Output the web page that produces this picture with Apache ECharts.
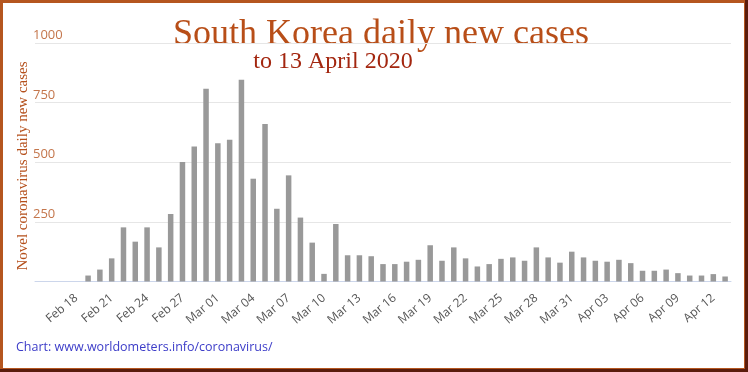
<!DOCTYPE html>
<html>
<head>
<meta charset="utf-8">
<script src="https://cdn.jsdelivr.net/npm/echarts@6/dist/echarts.min.js"></script>
<style>
  html, body { margin: 0; padding: 0; background: #ffffff; }
  #chart { width: 748px; height: 372px; }
</style>
</head>
<body>
<div id="chart"></div>
<script>
const titleText = 'South Korea daily new cases';
const subtitleText = 'to 13 April 2020';
const yAxisTitle = 'Novel coronavirus daily new cases';
const sourceText = 'Chart: www.worldometers.info/coronavirus/';

const categories = [
  'Feb 15','Feb 16','Feb 17','Feb 18','Feb 19','Feb 20','Feb 21','Feb 22','Feb 23','Feb 24',
  'Feb 25','Feb 26','Feb 27','Feb 28','Feb 29','Mar 01','Mar 02','Mar 03','Mar 04','Mar 05',
  'Mar 06','Mar 07','Mar 08','Mar 09','Mar 10','Mar 11','Mar 12','Mar 13','Mar 14','Mar 15',
  'Mar 16','Mar 17','Mar 18','Mar 19','Mar 20','Mar 21','Mar 22','Mar 23','Mar 24','Mar 25',
  'Mar 26','Mar 27','Mar 28','Mar 29','Mar 30','Mar 31','Apr 01','Apr 02','Apr 03','Apr 04',
  'Apr 05','Apr 06','Apr 07','Apr 08','Apr 09','Apr 10','Apr 11','Apr 12','Apr 13'
];

const dailyNewCases = [
  0, 0, 0, 0, 25, 50, 97, 227, 167, 227,
  143, 283, 501, 566, 808, 580, 594, 846, 431, 660,
  305, 445, 268, 163, 32, 241, 110, 110, 106, 73,
  73, 83, 91, 152, 87, 143, 97, 63, 73, 95,
  101, 87, 143, 101, 79, 125, 101, 87, 83, 91,
  77, 45, 45, 50, 35, 25, 25, 31, 21
];

const yTicks = [0, 250, 500, 750, 1000];
const xLabelEvery = 3;
const xLabelFirst = 3;

const chart = echarts.init(document.getElementById('chart'), null, { renderer: 'canvas' });

chart.setOption({
  animation: false,
  backgroundColor: '#ffffff',
  grid: { left: 35, right: 17, top: 43, bottom: 90.5, containLabel: false },
  xAxis: {
    type: 'category',
    data: categories,
    boundaryGap: true,
    axisLine: { show: true, lineStyle: { color: '#ccd6eb', width: 1 } },
    axisTick: { show: false },
    axisLabel: {
      interval: (idx) => idx >= xLabelFirst && (idx - xLabelFirst) % xLabelEvery === 0,
      rotate: 40,
      margin: 15,
      color: '#555555',
      fontFamily: 'Open Sans',
      fontSize: 12
    },
    splitLine: { show: false }
  },
  yAxis: {
    type: 'value',
    min: yTicks[0],
    max: yTicks[yTicks.length - 1],
    interval: yTicks[1] - yTicks[0],
    axisLine: { show: false },
    axisTick: { show: false },
    splitLine: { show: true, lineStyle: { color: '#e6e6e6', width: 1 } },
    axisLabel: {
      showMinLabel: false,
      formatter: (v) => String(v),
      align: 'left',
      verticalAlign: 'bottom',
      margin: 2,
      padding: [0, 0, 1, 0],
      color: '#c4764c',
      fontFamily: 'Open Sans',
      fontSize: 13
    }
  },
  series: [{
    type: 'bar',
    data: dailyNewCases,
    barWidth: 5.5,
    itemStyle: { color: '#999999' },
    emphasis: { disabled: true }
  }],
  graphic: [
    {
      type: 'text',
      x: 381, y: 17,
      style: {
        text: titleText,
        font: '36px "Liberation Serif"',
        fill: '#b84e18',
        align: 'center',
        verticalAlign: 'top'
      }
    },
    {
      type: 'text',
      x: 333, y: 50,
      style: {
        text: subtitleText,
        font: '24px "Liberation Serif"',
        fill: '#a3260f',
        align: 'center',
        verticalAlign: 'top'
      }
    },
    {
      type: 'text',
      x: 23, y: 166,
      rotation: Math.PI / 2,
      style: {
        text: yAxisTitle,
        font: '15px "Liberation Serif"',
        fill: '#b5501c',
        align: 'center',
        verticalAlign: 'middle'
      }
    },
    {
      type: 'text',
      x: 16, y: 347,
      style: {
        text: sourceText,
        font: '12.5px "Open Sans"',
        fill: '#3c3cc8',
        align: 'left',
        verticalAlign: 'middle'
      }
    },
    {
      type: 'rect',
      shape: { x: 1.5, y: 1.5, width: 744, height: 368 },
      style: { fill: 'none', stroke: '#b5561f', lineWidth: 3 }
    },
    {
      type: 'line',
      shape: { x1: 746.5, y1: 0, x2: 746.5, y2: 372 },
      style: { stroke: '#5a1c0c', lineWidth: 3 }
    },
    {
      type: 'line',
      shape: { x1: 0, y1: 370.5, x2: 748, y2: 370.5 },
      style: { stroke: '#5a1c0c', lineWidth: 3 }
    }
  ]
});
</script>
</body>
</html>
